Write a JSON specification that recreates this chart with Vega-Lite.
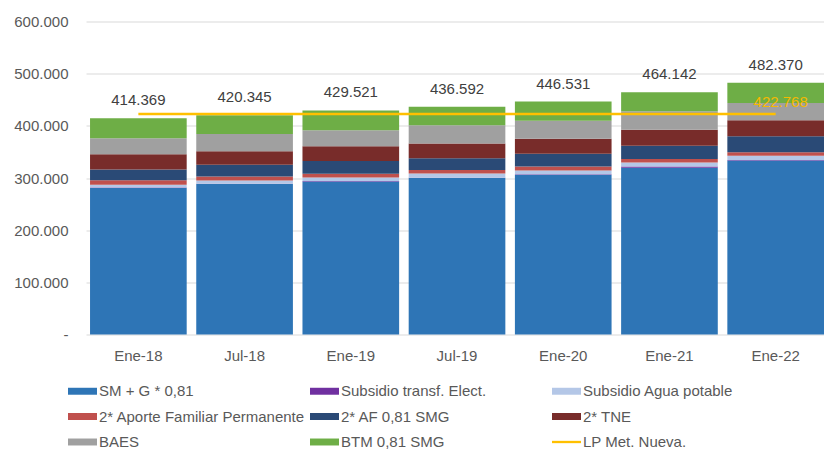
{
  "$schema": "https://vega.github.io/schema/vega-lite/v6.json",
  "width": 738,
  "height": 313,
  "autosize": {"type": "none"},
  "padding": {"left": 86, "top": 21.5, "right": 0, "bottom": 114.5},
  "background": "white",
  "config": {
    "view": {"stroke": null},
    "font": "Liberation Sans",
    "locale": {"number": {"decimal": ",", "thousands": ".", "grouping": [3], "currency": ["$", ""]}},
    "axis": {"labelFont": "Liberation Sans", "labelFontSize": 15, "labelColor": "#595959", "domain": false, "ticks": false, "title": null},
    "legend": {"labelFont": "Liberation Sans", "labelFontSize": 15, "labelColor": "#595959"}
  },
  "datasets": {
    "segmentos": [
      {"periodo": "Ene-18", "serie": "SM + G * 0,81", "valor": 281000},
      {"periodo": "Ene-18", "serie": "Subsidio transf. Elect.", "valor": 800},
      {"periodo": "Ene-18", "serie": "Subsidio Agua potable", "valor": 5500},
      {"periodo": "Ene-18", "serie": "2* Aporte Familiar Permanente", "valor": 8300},
      {"periodo": "Ene-18", "serie": "2* AF 0,81 SMG", "valor": 20500},
      {"periodo": "Ene-18", "serie": "2* TNE", "valor": 29400},
      {"periodo": "Ene-18", "serie": "BAES", "valor": 30700},
      {"periodo": "Ene-18", "serie": "BTM 0,81 SMG", "valor": 38169},
      {"periodo": "Jul-18", "serie": "SM + G * 0,81", "valor": 288400},
      {"periodo": "Jul-18", "serie": "Subsidio transf. Elect.", "valor": 800},
      {"periodo": "Jul-18", "serie": "Subsidio Agua potable", "valor": 6100},
      {"periodo": "Jul-18", "serie": "2* Aporte Familiar Permanente", "valor": 7700},
      {"periodo": "Jul-18", "serie": "2* AF 0,81 SMG", "valor": 22400},
      {"periodo": "Jul-18", "serie": "2* TNE", "valor": 26000},
      {"periodo": "Jul-18", "serie": "BAES", "valor": 33000},
      {"periodo": "Jul-18", "serie": "BTM 0,81 SMG", "valor": 35945},
      {"periodo": "Ene-19", "serie": "SM + G * 0,81", "valor": 293400},
      {"periodo": "Ene-19", "serie": "Subsidio transf. Elect.", "valor": 800},
      {"periodo": "Ene-19", "serie": "Subsidio Agua potable", "valor": 6900},
      {"periodo": "Ene-19", "serie": "2* Aporte Familiar Permanente", "valor": 7100},
      {"periodo": "Ene-19", "serie": "2* AF 0,81 SMG", "valor": 24300},
      {"periodo": "Ene-19", "serie": "2* TNE", "valor": 28500},
      {"periodo": "Ene-19", "serie": "BAES", "valor": 30300},
      {"periodo": "Ene-19", "serie": "BTM 0,81 SMG", "valor": 38221},
      {"periodo": "Jul-19", "serie": "SM + G * 0,81", "valor": 299900},
      {"periodo": "Jul-19", "serie": "Subsidio transf. Elect.", "valor": 800},
      {"periodo": "Jul-19", "serie": "Subsidio Agua potable", "valor": 7800},
      {"periodo": "Jul-19", "serie": "2* Aporte Familiar Permanente", "valor": 6800},
      {"periodo": "Jul-19", "serie": "2* AF 0,81 SMG", "valor": 22600},
      {"periodo": "Jul-19", "serie": "2* TNE", "valor": 28400},
      {"periodo": "Jul-19", "serie": "BAES", "valor": 34600},
      {"periodo": "Jul-19", "serie": "BTM 0,81 SMG", "valor": 35692},
      {"periodo": "Ene-20", "serie": "SM + G * 0,81", "valor": 306200},
      {"periodo": "Ene-20", "serie": "Subsidio transf. Elect.", "valor": 800},
      {"periodo": "Ene-20", "serie": "Subsidio Agua potable", "valor": 7500},
      {"periodo": "Ene-20", "serie": "2* Aporte Familiar Permanente", "valor": 7700},
      {"periodo": "Ene-20", "serie": "2* AF 0,81 SMG", "valor": 24400},
      {"periodo": "Ene-20", "serie": "2* TNE", "valor": 28800},
      {"periodo": "Ene-20", "serie": "BAES", "valor": 34500},
      {"periodo": "Ene-20", "serie": "BTM 0,81 SMG", "valor": 36631},
      {"periodo": "Ene-21", "serie": "SM + G * 0,81", "valor": 319700},
      {"periodo": "Ene-21", "serie": "Subsidio transf. Elect.", "valor": 2500},
      {"periodo": "Ene-21", "serie": "Subsidio Agua potable", "valor": 7700},
      {"periodo": "Ene-21", "serie": "2* Aporte Familiar Permanente", "valor": 6700},
      {"periodo": "Ene-21", "serie": "2* AF 0,81 SMG", "valor": 25300},
      {"periodo": "Ene-21", "serie": "2* TNE", "valor": 30700},
      {"periodo": "Ene-21", "serie": "BAES", "valor": 35200},
      {"periodo": "Ene-21", "serie": "BTM 0,81 SMG", "valor": 36342},
      {"periodo": "Ene-22", "serie": "SM + G * 0,81", "valor": 333700},
      {"periodo": "Ene-22", "serie": "Subsidio transf. Elect.", "valor": 1000},
      {"periodo": "Ene-22", "serie": "Subsidio Agua potable", "valor": 8000},
      {"periodo": "Ene-22", "serie": "2* Aporte Familiar Permanente", "valor": 6700},
      {"periodo": "Ene-22", "serie": "2* AF 0,81 SMG", "valor": 30400},
      {"periodo": "Ene-22", "serie": "2* TNE", "valor": 30700},
      {"periodo": "Ene-22", "serie": "BAES", "valor": 33400},
      {"periodo": "Ene-22", "serie": "BTM 0,81 SMG", "valor": 38470}
    ],
    "totales": [
      {"periodo": "Ene-18", "total": 414369},
      {"periodo": "Jul-18", "total": 420345},
      {"periodo": "Ene-19", "total": 429521},
      {"periodo": "Jul-19", "total": 436592},
      {"periodo": "Ene-20", "total": 446531},
      {"periodo": "Ene-21", "total": 464142},
      {"periodo": "Ene-22", "total": 482370}
    ],
    "lp": [
      {"periodo": "Ene-18", "serie": "LP Met. Nueva.", "valor": 422768},
      {"periodo": "Jul-18", "serie": "LP Met. Nueva.", "valor": 422768},
      {"periodo": "Ene-19", "serie": "LP Met. Nueva.", "valor": 422768},
      {"periodo": "Jul-19", "serie": "LP Met. Nueva.", "valor": 422768},
      {"periodo": "Ene-20", "serie": "LP Met. Nueva.", "valor": 422768},
      {"periodo": "Ene-21", "serie": "LP Met. Nueva.", "valor": 422768},
      {"periodo": "Ene-22", "serie": "LP Met. Nueva.", "valor": 422768}
    ]
  },
  "encoding": {
    "x": {
      "field": "periodo", "type": "nominal", "sort": null,
      "scale": {"domain": ["Ene-18", "Jul-18", "Ene-19", "Jul-19", "Ene-20", "Ene-21", "Ene-22"], "paddingInner": 0.09, "paddingOuter": 0.019, "align": 1},
      "axis": {"labelAngle": 0, "labelPadding": 14, "grid": false}
    }
  },
  "layer": [
    {
      "data": {"name": "segmentos"},
      "transform": [
        {"calculate": "indexof(['SM + G * 0,81','Subsidio transf. Elect.','Subsidio Agua potable','2* Aporte Familiar Permanente','2* AF 0,81 SMG','2* TNE','BAES','BTM 0,81 SMG'], datum.serie)", "as": "orden"}
      ],
      "mark": {"type": "bar"},
      "encoding": {
        "y": {
          "field": "valor", "type": "quantitative", "stack": "zero",
          "scale": {"domain": [0, 600000], "nice": false},
          "axis": {"values": [0, 100000, 200000, 300000, 400000, 500000, 600000], "format": ",.0f", "labelExpr": "datum.value === 0 ? '-' : datum.label", "labelPadding": 18, "grid": true, "gridColor": "#D9D9D9", "gridWidth": 1}
        },
        "order": {"field": "orden", "type": "quantitative", "sort": "ascending"},
        "color": {
          "field": "serie", "type": "nominal",
          "scale": {
            "domain": ["SM + G * 0,81", "Subsidio transf. Elect.", "Subsidio Agua potable", "2* Aporte Familiar Permanente", "2* AF 0,81 SMG", "2* TNE", "BAES", "BTM 0,81 SMG", "LP Met. Nueva."],
            "range": ["#2E75B6", "#7030A0", "#B4C7E7", "#C0504D", "#2A4A76", "#782C2A", "#A0A0A0", "#6EAE46", "#FFC000"]
          },
          "legend": {
            "title": null, "orient": "none", "legendX": -18, "legendY": 355,
            "direction": "horizontal", "columns": 3, "gridAlign": "all",
            "columnPadding": 5, "rowPadding": 2.5, "padding": 0,
            "labelOffset": 2, "symbolSize": 841, "labelLimit": 260,
            "symbolType": "M-1,-0.24H1V0.24H-1Z",
            "encode": {
              "symbols": {
                "update": {
                  "shape": {"signal": "datum.label === 'LP Met. Nueva.' ? 'M-1,-0.08H1V0.08H-1Z' : 'M-1,-0.24H1V0.24H-1Z'"},
                  "fill": {"scale": "color", "field": "value"},
                  "strokeWidth": {"value": 0},
                  "opacity": {"value": 1}
                }
              }
            }
          }
        }
      }
    },
    {
      "data": {"name": "lp"},
      "mark": {"type": "line", "strokeWidth": 2.5},
      "encoding": {
        "y": {"field": "valor", "type": "quantitative"},
        "color": {"field": "serie", "type": "nominal"}
      }
    },
    {
      "data": {"name": "lp"},
      "transform": [{"filter": "datum.periodo === 'Ene-22'"}],
      "mark": {"type": "text", "fontSize": 15, "color": "#F5B800", "baseline": "middle", "dy": -12, "dx": 5},
      "encoding": {
        "y": {"field": "valor", "type": "quantitative"},
        "text": {"field": "valor", "type": "quantitative", "format": ",.0f"}
      }
    },
    {
      "data": {"name": "totales"},
      "mark": {"type": "text", "fontSize": 15, "color": "#404040", "baseline": "middle", "dy": -18},
      "encoding": {
        "y": {"field": "total", "type": "quantitative"},
        "text": {"field": "total", "type": "quantitative", "format": ",.0f"}
      }
    }
  ]
}
